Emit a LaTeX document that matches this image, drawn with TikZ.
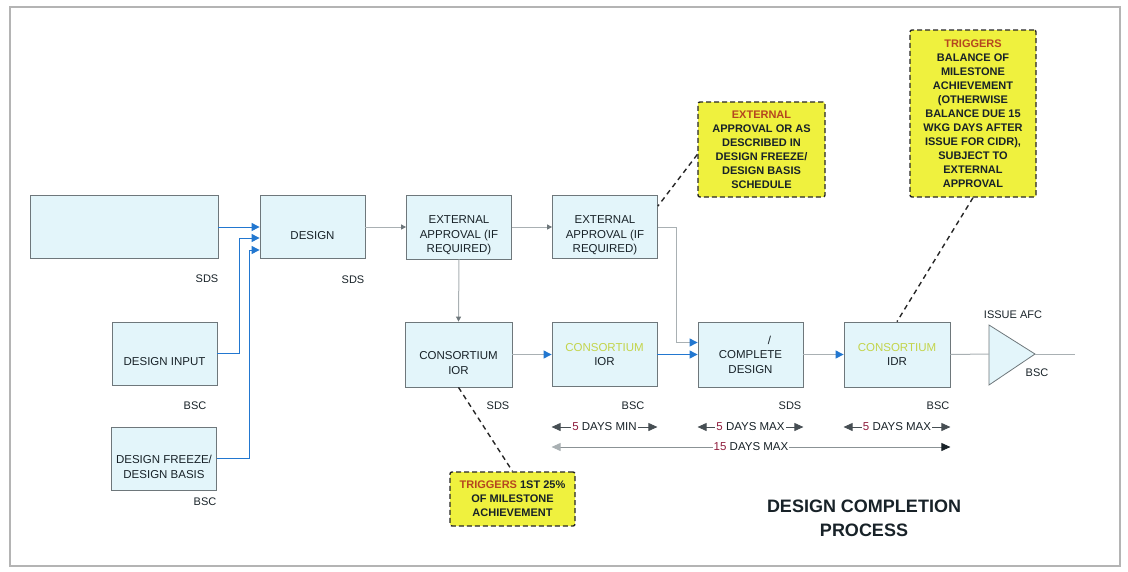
\documentclass[tikz,border=0pt]{standalone}
\usepackage{fontspec}
\setmainfont{Liberation Sans}
\setsansfont{Liberation Sans}
\usepackage{tikz}
\usetikzlibrary{arrows.meta,positioning,calc}
\definecolor{DcBlue}{HTML}{2277D0}
\definecolor{DcFill}{HTML}{E3F5FA}
\definecolor{DcEdge}{HTML}{6E777B}
\definecolor{DcLine}{HTML}{A9B0B3}
\definecolor{DcInk}{HTML}{182228}
\definecolor{DcNote}{HTML}{EFF13E}
\definecolor{DcRed}{HTML}{B5461F}
\definecolor{DcWine}{HTML}{8E1C3C}
\definecolor{DcPale}{HTML}{C3D44A}
\definecolor{DcFrame}{HTML}{B4B4B4}
\tikzset{
  dclabel/.style={font=\sffamily\fontsize{11.5}{14.5}\selectfont, text=DcInk},
  dcsmall/.style={font=\sffamily\fontsize{11}{13}\selectfont, text=DcInk},
  dcnotefont/.style={font=\sffamily\bfseries\fontsize{11}{14}\selectfont, text=DcInk},
  dcbox/.style={draw=DcEdge, line width=0.8pt, fill=DcFill, align=center, inner sep=2pt},
  dcnote/.style={dcnotefont, draw=black!85, dash pattern=on 5pt off 3pt, line width=1.4pt, fill=DcNote, align=center, rounded corners=2pt, inner sep=2pt},
  dcflow/.style={-{Triangle[length=8pt,width=8pt]}, line width=1pt, draw=DcBlue},
  dcpass/.style={-{Triangle[length=8pt,width=8pt,color=DcBlue]}, line width=1pt, draw=DcLine},
  dcstep/.style={-{Triangle[length=5pt,width=5pt,color=DcEdge]}, line width=1pt, draw=DcLine},
  dcplain/.style={line width=1pt, draw=DcLine},
  dcleader/.style={draw=black!85, line width=1.4pt, dash pattern=on 5pt off 4pt},
  dcdim/.style={{Triangle[length=9pt,width=8pt]}-{Triangle[length=9pt,width=8pt]}, line width=0.9pt, draw=DcInk!80}
}

\begin{document}
\begin{tikzpicture}[x=1pt, y=-1pt,
  every node/.style={dclabel},
  stage/.style={dcbox, minimum width=105pt, minimum height=63pt},
  owner/.style={dcsmall},
  dimtext/.style={font=\sffamily\fontsize{11.5}{13}\selectfont, fill=white, inner sep=1pt}
]
\useasboundingbox (0,0) rectangle (1128,571);
\draw[DcFrame, line width=2pt] (10,7) rectangle (1120,566);

% design inputs
\node[stage, minimum width=188pt] (prelim) at (124,227) {};
\node[stage] (input) at (164.5,353.5) {\strut\\DESIGN INPUT};
\node[stage] (freeze) at (164,458.5) {\strut\\DESIGN FREEZE/\\DESIGN BASIS};

% main chain
\node[stage] (complete) at (312.5,227) {\strut\\DESIGN};
\node[stage, minimum height=64pt] (approval) at (459,227) {\strut\\EXTERNAL\\APPROVAL (IF\\REQUIRED)};
\node[stage] (approval2) at (605,227) {\strut\\EXTERNAL\\APPROVAL (IF\\REQUIRED)};
\node[stage, minimum width=107pt, minimum height=65pt] (consior) at (458.5,354.5) {\strut\\CONSORTIUM\\IOR};
\node[stage, minimum height=64pt] (ior) at (604.5,354.5) {\textcolor{DcPale}{CONSORTIUM}\\IOR};
\node[stage, minimum height=65pt] (final) at (750.5,354.5) {\hspace*{38pt}/\\COMPLETE\\DESIGN};
\node[stage, minimum width=106pt, minimum height=65pt] (idr) at (897,354.5) {\textcolor{DcPale}{CONSORTIUM}\\IDR};

% issue AFC
\coordinate (afcin) at (989,354);
\coordinate (afctip) at (1035,354);
\coordinate (afcout) at (1075,354);
\draw[DcEdge, fill=DcFill, line width=0.8pt] (989,325) -- (afctip) -- (989,385) -- cycle;
\node[owner] (afclabel) at (1013,315) {ISSUE AFC};
\node[owner] (afcowner) at (1037,373) {BSC};

% owners
\foreach \nm/\x/\y/\who in {prelim/207/279/SDS, complete/353/280/SDS, input/195/406/BSC, freeze/205/502/BSC,
    consior/498/406/SDS, ior/633/406/BSC, final/790/406/SDS, idr/938/406/BSC} {
  \node[owner] (own-\nm) at (\x,\y) {\who};
}

% connectors
\draw[dcflow] (prelim.east) -- (complete.west);
\draw[dcflow] (input.east) -- ++(22,0) |- ([yshift=-11pt]complete.west);
\draw[dcflow] (freeze.east) -- ++(33,0) |- ([yshift=-23pt]complete.west);
\draw[dcstep] (complete.east) -- (approval.west);
\draw[dcstep] (approval.east) -- (approval2.west);
\draw[dcstep] (approval.south) -- (consior.north);
\draw[dcpass] (approval2.east) -- ++(19,0) |- ([yshift=12pt]final.west);
\draw[dcpass] (consior.east) -- (ior.west);
\draw[dcflow] (ior.east) -- (final.west);
\draw[dcpass] (final.east) -- (idr.west);
\draw[dcplain] (idr.east) -- (afcin);
\draw[dcplain] (afctip) -- (afcout);

% notes
\node[dcnote, minimum width=127pt, minimum height=95pt] (extnote) at (761.5,149.5)
  {\textcolor{DcRed}{EXTERNAL}\\APPROVAL OR AS\\DESCRIBED IN\\DESIGN FREEZE/\\DESIGN BASIS\\SCHEDULE};
\node[dcnote, minimum width=126pt, minimum height=167pt] (balnote) at (973,113.5)
  {\textcolor{DcRed}{TRIGGERS}\\BALANCE OF\\MILESTONE\\ACHIEVEMENT\\(OTHERWISE\\BALANCE DUE 15\\WKG DAYS AFTER\\ISSUE FOR CIDR),\\SUBJECT TO\\EXTERNAL\\APPROVAL};
\node[dcnote, minimum width=125pt, minimum height=54pt] (firstnote) at (512.5,499)
  {\textcolor{DcRed}{TRIGGERS} 1ST 25\%\\OF MILESTONE\\ACHIEVEMENT};
\draw[dcleader] ([yshift=-5pt]extnote.west) -- ([yshift=-11pt]approval2.north east);
\draw[dcleader] (balnote.south) -- (idr.north);
\draw[dcleader] (consior.south) -- (firstnote.north);

% durations
\coordinate (dimrow) at (0,427);
\coordinate (totrow) at (0,447);
\draw[dcdim] (ior.west |- dimrow) -- (ior.east |- dimrow) node[midway, dimtext] {\textcolor{DcWine}{5} DAYS MIN};
\draw[dcdim] (final.west |- dimrow) -- (final.east |- dimrow) node[midway, dimtext] {\textcolor{DcWine}{5} DAYS MAX};
\draw[dcdim] (idr.west |- dimrow) -- (idr.east |- dimrow) node[midway, dimtext] {\textcolor{DcWine}{5} DAYS MAX};
\draw[dcdim, draw=DcEdge!80, {Triangle[length=9pt,width=8pt,color=DcLine]}-{Triangle[length=9pt,width=8pt,color=DcInk]}]
  (ior.west |- totrow) -- (idr.east |- totrow) node[midway, dimtext] {\textcolor{DcWine}{15} DAYS MAX};

\node[font=\sffamily\bfseries\fontsize{18}{24}\selectfont, align=center, text=DcInk] (title) at (864,518) {DESIGN COMPLETION\\PROCESS};
\end{tikzpicture}
\end{document}
